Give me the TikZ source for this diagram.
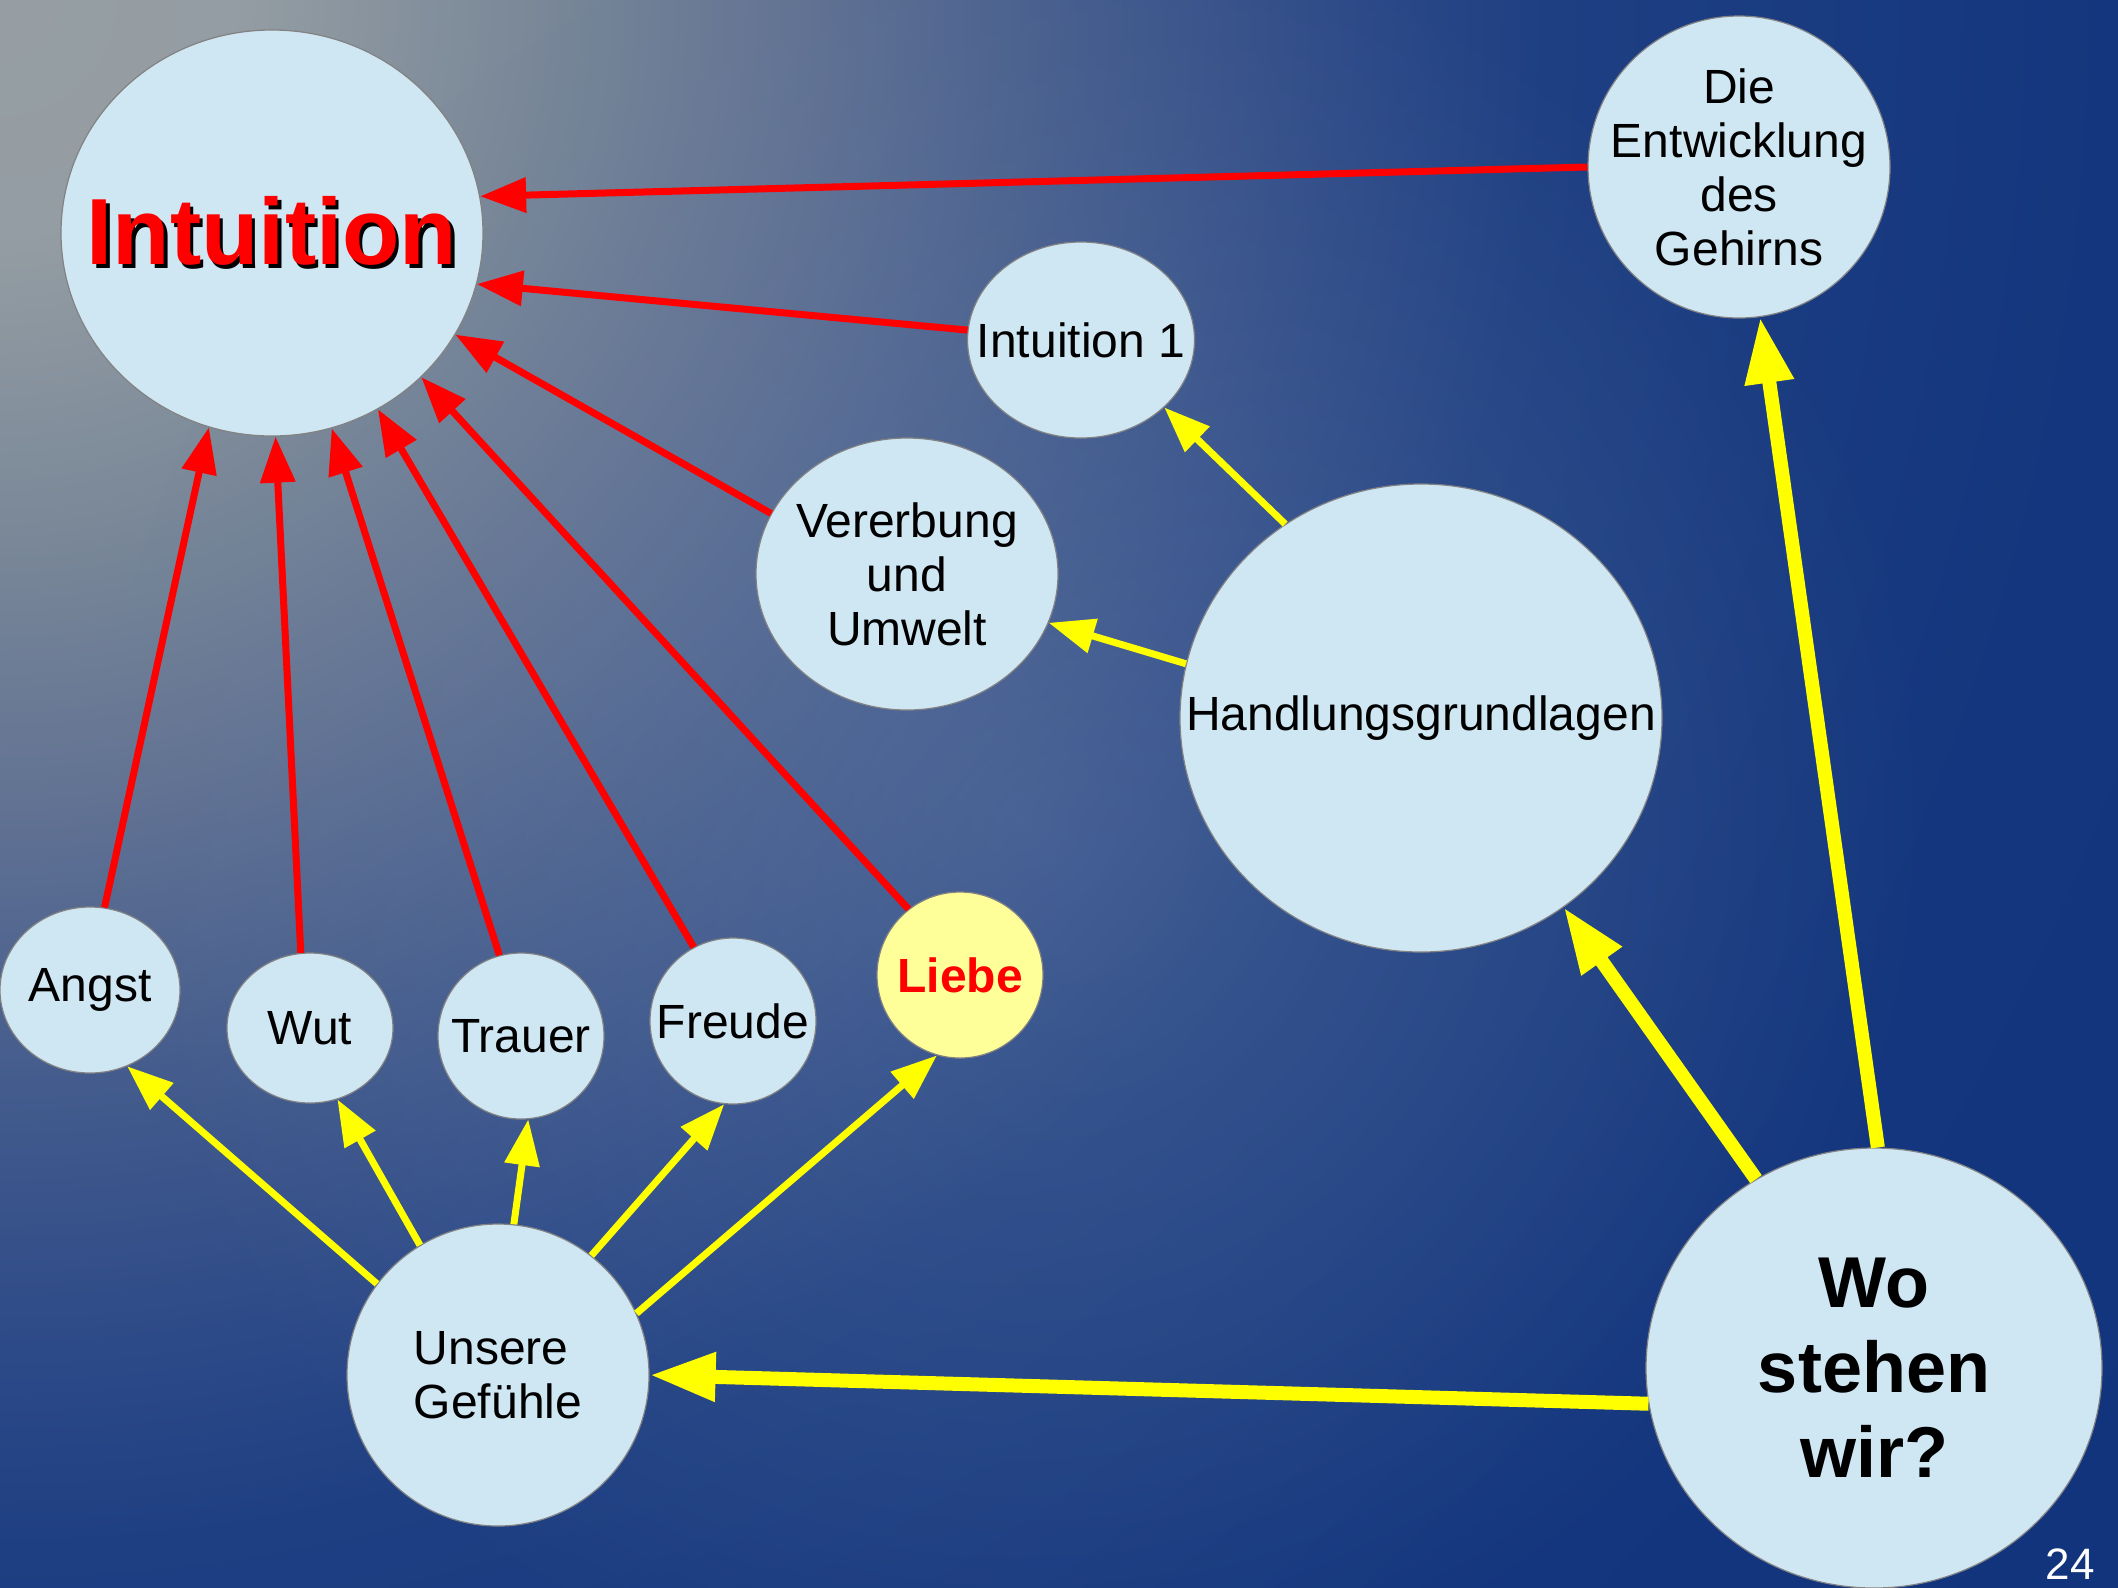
\documentclass[tikz,border=0pt]{standalone}
\usepackage{fontspec}
\setmainfont{Liberation Sans}
\usetikzlibrary{shapes.geometric,arrows.meta,fadings}
\definecolor{bubble}{RGB}{207,230,243}
\definecolor{bubbleedge}{RGB}{130,130,130}
\definecolor{liebefill}{RGB}{255,255,153}
\definecolor{yel}{RGB}{255,255,0}
\definecolor{rd}{RGB}{255,0,0}
\definecolor{bgA}{RGB}{150,158,163}
\definecolor{bgB}{RGB}{148,157,163}
\definecolor{bgC}{RGB}{122,136,152}
\definecolor{bgD}{RGB}{97,114,147}
\definecolor{bgE}{RGB}{68,92,141}
\definecolor{bgF}{RGB}{45,74,136}
\definecolor{bgG}{RGB}{30,63,130}
\definecolor{bgH}{RGB}{20,54,126}
\definecolor{bgI}{RGB}{17,52,124}
\definecolor{glowc}{RGB}{110,132,168}
\pgfdeclareradialshading{bgshade}{\pgfpoint{0bp}{0bp}}{color(0bp)=(bgA); color(2.2bp)=(bgB); color(5bp)=(bgC); color(7.6bp)=(bgD); color(10.2bp)=(bgE); color(12.7bp)=(bgF); color(14.6bp)=(bgG); color(20bp)=(bgH); color(25bp)=(bgI); color(50bp)=(bgI)}
\tikzfading[name=myglow, inner color=transparent!0, outer color=transparent!100]
\tikzset{
  bub/.style={ellipse, draw=bubbleedge, line width=0.6pt, fill=bubble, inner sep=0pt},
  txt/.style={align=center, inner sep=0pt, font=\fontsize{24}{27}\selectfont},
  redarr/.style={draw=rd, line width=3.5pt, -{Triangle[length=23pt,width=17pt]}},
  yelarr/.style={draw=yel, line width=3.5pt, -{Triangle[length=23pt,width=17pt]}},
  yelthick/.style={draw=yel, line width=7pt, -{Triangle[length=33pt,width=23pt]}},
}
\begin{document}
\begin{tikzpicture}[x=0.5pt,y=-0.5pt]
\useasboundingbox (0,0) rectangle (2118,1587);
\begin{scope}
  \clip (0,0) rectangle (2118,1587);
  \shade[shading=bgshade] (0,0) circle (1325pt);
  \fill[glowc, path fading=myglow, fill opacity=0.4] (1020,820) circle (460pt);
\end{scope}

% nodes
\node[bub, minimum width=211pt, minimum height=203pt,
  label={[txt, font=\fontsize{47}{50}\selectfont\bfseries]center:{\makebox[0pt][l]{\raisebox{-1.7pt}{\kern1.7pt\textcolor{black}{Intuition}}}\textcolor{rd}{Intuition}}}] (int) at (272,233) {};
\node[bub, minimum width=151pt, minimum height=151pt, label={[txt]center:{Die\\Entwicklung\\des\\Gehirns}}] (ent) at (1739,167) {};
\node[bub, minimum width=113.5pt, minimum height=98pt, label={[txt]center:Intuition 1}] (int1) at (1081,340) {};
\node[bub, minimum width=151pt, minimum height=136pt, label={[txt]center:{Vererbung\\und\\Umwelt}}] (ver) at (907,574) {};
\node[bub, minimum width=241pt, minimum height=234pt, label={[txt]center:Handlungsgrundlagen}] (hand) at (1421,718) {};
\node[bub, minimum width=228pt, minimum height=220pt, label={[txt, font=\fontsize{36}{42.5}\selectfont\bfseries]center:{Wo\\stehen\\wir?}}] (wo) at (1874,1368) {};
\node[bub, minimum width=151pt, minimum height=151pt, label={[txt, align=left]center:{Unsere\\Gefühle}}] (gef) at (498,1375) {};
\node[bub, minimum width=90pt, minimum height=83pt, label={[txt]center:Angst}] (angst) at (90,990) {};
\node[bub, minimum width=83pt, minimum height=75pt, label={[txt]center:Wut}] (wut) at (310,1028) {};
\node[bub, minimum width=83pt, minimum height=83pt, label={[txt]center:Trauer}] (trauer) at (521,1036) {};
\node[bub, minimum width=83pt, minimum height=83pt, label={[txt]center:Freude}] (freude) at (733,1021) {};
\node[bub, fill=liebefill, minimum width=83pt, minimum height=83pt, label={[txt, text=rd, font=\fontsize{24}{27}\selectfont\bfseries]center:Liebe}] (liebe) at (960,975) {};
\node[anchor=base east, text=white, inner sep=0pt, font=\fontsize{22}{26}\selectfont] (pg) at (2095,1579) {24};

% red arrows
\draw[redarr] (ent.180) -- (int.10);
\draw[redarr] (int1.175) -- (int.-14);
\draw[redarr] (ver.156) -- (int.-29);
\draw[redarr] (liebe.128) -- (int.-44);
\draw[redarr] (freude.118) -- (int.-59);
\draw[redarr] (trauer.105) -- (int.-73);
\draw[redarr] (wut.97.5) -- (int.-89);
\draw[redarr] (angst.80) -- (int.-108);

% yellow arrows
\draw[yelarr] (hand.125) -- (int1.-39);
\draw[yelarr] (hand.167.6) -- (ver.-19);
\draw[yelthick] (wo.122) -- (hand.-53.5);
\draw[yelthick] (wo.89.5) -- (ent.-82.6);
\draw[yelthick] (wo.189.5) -- (gef.0);
\draw[yelarr] (gef.143.8) -- (angst.-64.7);
\draw[yelarr] (gef.121.8) -- (wut.-69);
\draw[yelarr] (gef.84.3) -- (trauer.-85);
\draw[yelarr] (gef.52.5) -- (freude.-96);
\draw[yelarr] (gef.24.2) -- (liebe.-106);
\end{tikzpicture}
\end{document}
